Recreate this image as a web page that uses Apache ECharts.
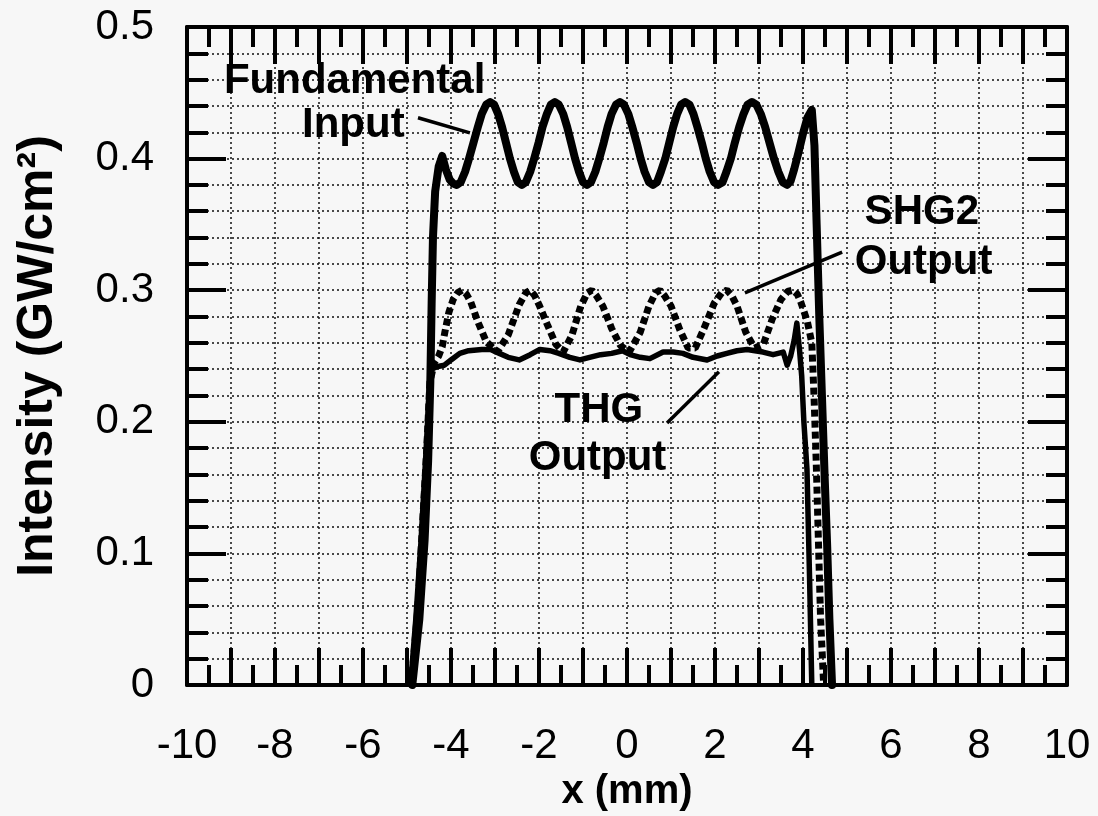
<!DOCTYPE html>
<html>
<head>
<meta charset="utf-8">
<title>Intensity vs x</title>
<script src="https://cdn.jsdelivr.net/npm/echarts@6/dist/echarts.min.js"></script>
<style>
html, body { margin:0; padding:0; background:#f7f7f7; }
#main { width:1098px; height:816px; }
</style>
</head>
<body>
<div id="main"></div>
<script>
// values: [x (mm), intensity (GW/cm2)]
var fundamental = [
  [-4.88,0],[-4.72,0.05],[-4.6,0.11],[-4.52,0.17],[-4.47,0.23],[-4.44,0.29],[-4.41,0.34],
  [-4.36,0.375],[-4.28,0.394],[-4.2,0.402],[-4.12,0.392],[-4.03,0.384],[-3.95,0.381],
  [-3.87,0.380],[-3.78,0.382],[-3.68,0.390],[-3.59,0.400],[-3.49,0.412],[-3.39,0.424],
  [-3.30,0.434],[-3.20,0.441],[-3.11,0.443],[-3.02,0.441],[-2.93,0.434],[-2.84,0.424],
  [-2.75,0.412],[-2.66,0.400],[-2.57,0.390],[-2.48,0.382],[-2.39,0.380],[-2.30,0.382],
  [-2.20,0.390],[-2.11,0.400],[-2.01,0.412],[-1.92,0.424],[-1.82,0.434],[-1.73,0.441],
  [-1.64,0.443],[-1.55,0.441],[-1.45,0.434],[-1.36,0.424],[-1.27,0.412],[-1.18,0.400],
  [-1.09,0.390],[-1.00,0.382],[-0.91,0.380],[-0.82,0.382],[-0.72,0.390],[-0.63,0.400],
  [-0.53,0.412],[-0.44,0.424],[-0.35,0.434],[-0.25,0.441],[-0.16,0.443],[-0.07,0.441],
  [0.03,0.434],[0.12,0.424],[0.22,0.412],[0.31,0.400],[0.40,0.390],[0.50,0.382],
  [0.59,0.380],[0.68,0.382],[0.77,0.390],[0.87,0.400],[0.96,0.412],[1.05,0.424],
  [1.14,0.434],[1.23,0.441],[1.32,0.443],[1.42,0.441],[1.51,0.434],[1.60,0.424],
  [1.70,0.412],[1.79,0.400],[1.88,0.390],[1.98,0.382],[2.07,0.380],[2.17,0.382],
  [2.26,0.390],[2.36,0.400],[2.45,0.412],[2.55,0.424],[2.65,0.434],[2.74,0.441],
  [2.84,0.443],[2.94,0.441],[3.04,0.434],[3.14,0.424],[3.24,0.412],[3.34,0.400],
  [3.44,0.390],[3.54,0.382],[3.64,0.380],[3.72,0.383],[3.80,0.392],[3.90,0.405],
  [4.00,0.419],[4.10,0.431],[4.20,0.437],[4.26,0.41],[4.31,0.35],[4.37,0.28],
  [4.43,0.22],[4.49,0.16],[4.55,0.105],[4.6,0.05],[4.66,0]
];
var shg2 = [
  [-4.9,0],[-4.75,0.06],[-4.65,0.12],[-4.55,0.18],[-4.48,0.23],[-4.38,0.245],[-4.28,0.25],
  [-4.2,0.257],[-4.14,0.268],[-4.05,0.283],[-3.95,0.293],[-3.85,0.298],[-3.75,0.300],
  [-3.65,0.297],[-3.55,0.291],[-3.39,0.276],[-3.2,0.261],[-2.95,0.253],[-2.7,0.266],
  [-2.45,0.289],[-2.3,0.298],[-2.2,0.300],[-2.1,0.296],[-2.0,0.289],[-1.8,0.273],
  [-1.62,0.259],[-1.45,0.253],[-1.25,0.266],[-1.05,0.288],[-0.9,0.298],[-0.8,0.300],
  [-0.7,0.296],[-0.55,0.288],[-0.35,0.271],[-0.15,0.258],[0.05,0.253],[0.3,0.268],
  [0.5,0.288],[0.65,0.298],[0.75,0.300],[0.85,0.296],[1.0,0.288],[1.2,0.270],
  [1.39,0.256],[1.55,0.256],[1.75,0.271],[1.98,0.290],[2.15,0.298],[2.27,0.300],
  [2.38,0.296],[2.5,0.288],[2.7,0.268],[2.9,0.256],[3.1,0.259],[3.3,0.278],[3.5,0.293],
  [3.65,0.299],[3.77,0.300],[3.87,0.297],[3.95,0.291],[4.1,0.276],[4.2,0.26],
  [4.25,0.22],[4.3,0.17],[4.35,0.11],[4.4,0.05],[4.47,0]
];
var thg = [
  [-4.92,0],[-4.8,0.05],[-4.68,0.11],[-4.58,0.17],[-4.5,0.22],[-4.45,0.24],[-4.3,0.242],
  [-4.15,0.243],[-4.0,0.247],[-3.8,0.252],[-3.6,0.254],[-3.3,0.255],[-3.1,0.255],
  [-2.9,0.252],[-2.7,0.249],[-2.45,0.247],[-2.2,0.251],[-1.98,0.255],[-1.75,0.254],
  [-1.55,0.252],[-1.3,0.249],[-1.07,0.247],[-0.85,0.249],[-0.6,0.251],[-0.35,0.252],
  [-0.1,0.254],[0.07,0.251],[0.3,0.249],[0.52,0.248],[0.82,0.253],[1.05,0.253],
  [1.27,0.252],[1.5,0.249],[1.82,0.247],[2.05,0.25],[2.27,0.252],[2.5,0.254],
  [2.73,0.255],[3.09,0.253],[3.32,0.251],[3.55,0.253],[3.64,0.243],[3.72,0.25],
  [3.8,0.262],[3.86,0.275],[3.92,0.255],[3.97,0.235],[4.02,0.2],[4.09,0.164],
  [4.15,0.08],[4.2,0]
];

// annotation texts and leader lines, in data coordinates
var noteTexts = [
  { text: 'Fundamental', at: [-6.19, 0.459] },
  { text: 'Input',       at: [-6.22, 0.4255] },
  { text: 'SHG2',        at: [6.70, 0.359] },
  { text: 'Output',      at: [6.74, 0.321] },
  { text: 'THG',         at: [-0.64, 0.209] },
  { text: 'Output',      at: [-0.67, 0.1725] }
];
var noteLines = [
  [[-4.75, 0.431], [-3.57, 0.4195]],
  [[4.89, 0.329], [2.68, 0.298]],
  [[2.09, 0.238], [0.91, 0.199]]
];

var fontMain = '"Liberation Sans", Arial, Helvetica, sans-serif';
var frameLine = { show: true, onZero: false, lineStyle: { color: '#000', width: 4 } };
var dotGrid = { show: true, lineStyle: { color: '#111', width: 1.5, type: [2, 3] } };

var chart = echarts.init(document.getElementById('main'));

var option = {
    backgroundColor: '#f7f7f7',
    animation: false,
    grid: { left: 187, right: 31, top: 27, bottom: 131, containLabel: false, outerBoundsMode: 'none' },
    xAxis: [
        {
            type: 'value', min: -10, max: 10, interval: 1, position: 'bottom',
            axisLine: frameLine,
            axisTick: { show: true, inside: true, length: 37, lineStyle: { color: '#000', width: 4 } },
            minorTick: { show: true, splitNumber: 2, length: 20, lineStyle: { color: '#000', width: 4 } },
            splitLine: dotGrid,
            axisLabel: {
                margin: 40, fontSize: 42, color: '#000', fontFamily: fontMain,
                formatter: function (v) { return v % 2 === 0 ? String(v) : ''; }
            },
            name: 'x (mm)', nameLocation: 'middle', nameGap: 87,
            nameTextStyle: { fontSize: 40, fontWeight: 'bold', color: '#000', fontFamily: fontMain }
        },
        {
            type: 'value', min: -10, max: 10, interval: 1, position: 'top',
            axisLine: frameLine,
            axisTick: { show: true, inside: true, length: 37, lineStyle: { color: '#000', width: 4 } },
            minorTick: { show: true, splitNumber: 2, length: 20, lineStyle: { color: '#000', width: 4 } },
            splitLine: { show: false },
            axisLabel: { show: false }
        }
    ],
    yAxis: [
        {
            type: 'value', min: 0, max: 0.5, interval: 0.1, position: 'left',
            axisLine: frameLine,
            axisTick: { show: true, inside: true, length: 39, lineStyle: { color: '#000', width: 4 } },
            minorTick: { show: true, splitNumber: 5, length: 21, lineStyle: { color: '#000', width: 4 } },
            splitLine: dotGrid,
            minorSplitLine: dotGrid,
            axisLabel: {
                margin: 33, fontSize: 42, color: '#000', fontFamily: fontMain,
                formatter: function (v) { return v === 0 ? '0' : v.toFixed(1); }
            },
            name: 'Intensity (GW/cm²)', nameLocation: 'middle', nameGap: 124,
            nameTextStyle: { fontSize: 50, fontWeight: 'bold', color: '#000', fontFamily: fontMain }
        },
        {
            type: 'value', min: 0, max: 0.5, interval: 0.1, position: 'right',
            axisLine: frameLine,
            axisTick: { show: true, inside: true, length: 39, lineStyle: { color: '#000', width: 4 } },
            minorTick: { show: true, splitNumber: 5, length: 21, lineStyle: { color: '#000', width: 4 } },
            splitLine: { show: false },
            axisLabel: { show: false }
        }
    ],
    series: [
        {
            name: 'Fundamental', type: 'line', data: fundamental, symbol: 'none',
            lineStyle: { color: '#000', width: 8, cap: 'round', join: 'round' }, z: 4
        },
        {
            name: 'SHG2', type: 'line', data: shg2, symbol: 'none',
            lineStyle: { color: '#000', width: 7, type: [7, 4] }, z: 3
        },
        {
            name: 'THG', type: 'line', data: thg, symbol: 'none',
            lineStyle: { color: '#000', width: 5.5, join: 'round' }, z: 5
        }
    ]
};
chart.setOption(option);

// place the annotations once the grid exists
var elems = [];
noteTexts.forEach(function (a) {
    var p = chart.convertToPixel({ xAxisIndex: 0, yAxisIndex: 0 }, a.at);
    elems.push({
        type: 'text', x: p[0], y: p[1], z: 100,
        style: {
            text: a.text, fill: '#000', font: 'bold 42px ' + fontMain,
            align: 'center', verticalAlign: 'middle', textAlign: 'center', textVerticalAlign: 'middle'
        }
    });
});
noteLines.forEach(function (l) {
    var p1 = chart.convertToPixel({ xAxisIndex: 0, yAxisIndex: 0 }, l[0]);
    var p2 = chart.convertToPixel({ xAxisIndex: 0, yAxisIndex: 0 }, l[1]);
    elems.push({
        type: 'line', z: 100,
        shape: { x1: p1[0], y1: p1[1], x2: p2[0], y2: p2[1] },
        style: { stroke: '#000', lineWidth: 3.5 }
    });
});
chart.setOption({ graphic: elems });
</script>
</body>
</html>
